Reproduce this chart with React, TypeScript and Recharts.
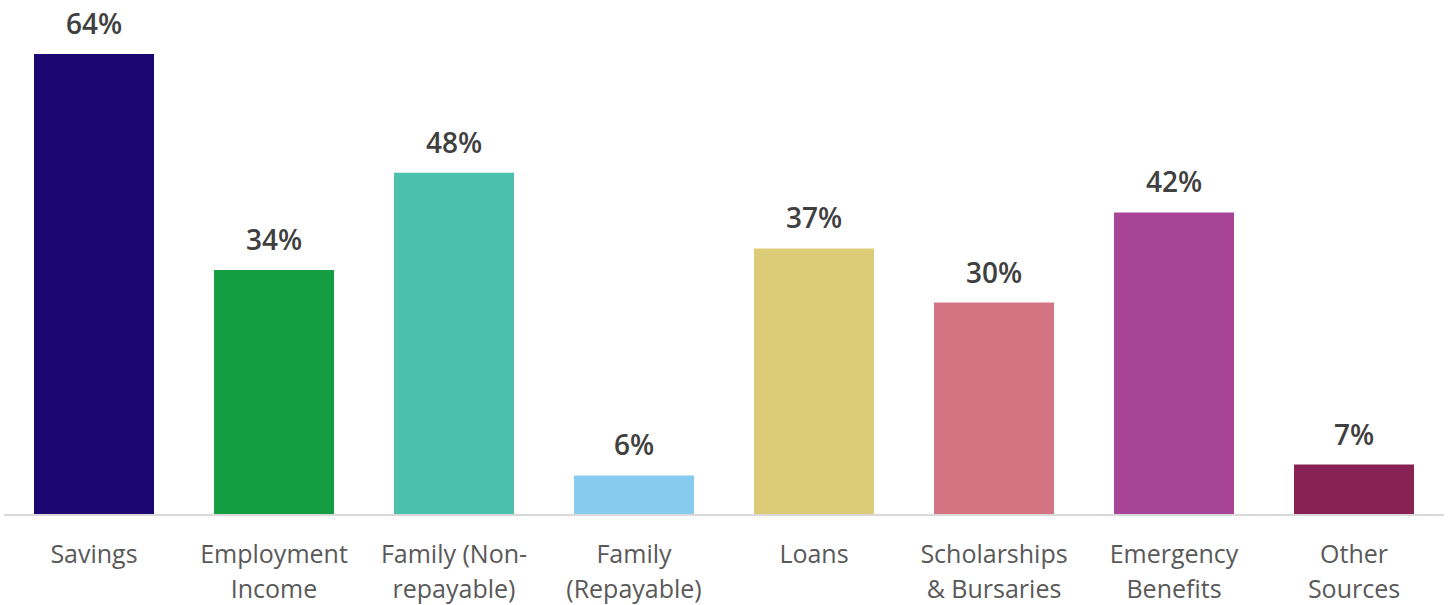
import { Bar, BarChart, Cell, LabelList, XAxis, YAxis } from 'recharts'

const categories = [
  'Savings',
  'Employment Income',
  'Family (Non-repayable)',
  'Family (Repayable)',
  'Loans',
  'Scholarships & Bursaries',
  'Emergency Benefits',
  'Other Sources',
]

// wrapped tick labels, as shown under each bar
const tickLines = [
  ['Savings'],
  ['Employment', 'Income'],
  ['Family (Non-', 'repayable)'],
  ['Family', '(Repayable)'],
  ['Loans'],
  ['Scholarships', '& Bursaries'],
  ['Emergency', 'Benefits'],
  ['Other', 'Sources'],
]

const shares = [64, 34, 47.5, 5.5, 37, 29.5, 42, 7]

const colors = ['#1C0772', '#149E41', '#4BC1AD', '#87CCEE', '#DDCC77', '#D47382', '#A84497', '#882255']

const data = categories.map((name, i) => ({ name, share: shares[i] }))

const FONT = '"Open Sans", "Noto Sans", sans-serif'

function WrappedTick(props: any) {
  const { x, y, payload } = props
  const lines = tickLines[payload.index] ?? [payload.value]
  return (
    <g transform={`translate(${x},${y})`}>
      {lines.map((line: string, i: number) => (
        <text
          key={i}
          x={0}
          y={40 + i * 35}
          textAnchor='middle'
          fill='#595959'
          fontSize={25}
          fontFamily={FONT}
        >
          {line}
        </text>
      ))}
    </g>
  )
}

function ValueLabel(props: any) {
  const { x, y, width, value } = props
  return (
    <text
      x={x + width / 2}
      y={y - 20}
      textAnchor='middle'
      fill='#404040'
      fontSize={28}
      fontWeight={600}
      fontFamily={FONT}
    >
      {Math.round(value)}%
    </text>
  )
}

export default function App() {
  return (
    <div style={{ position: 'absolute', left: 0, top: 0, background: '#fff' }}>
      <BarChart
        width={1450}
        height={605}
        data={data}
        margin={{ top: 54, right: 6, bottom: 0, left: 4 }}
        barCategoryGap={60}
      >
        <XAxis
          dataKey='name'
          interval={0}
          tickLine={false}
          axisLine={{ stroke: '#D9D9D9', strokeWidth: 2 }}
          height={90}
          tick={<WrappedTick />}
        />
        <YAxis hide domain={[0, 64]} />
        <Bar dataKey='share' barSize={120} isAnimationActive={false}>
          {data.map((d, i) => (
            <Cell key={d.name} fill={colors[i]} />
          ))}
          <LabelList dataKey='share' content={<ValueLabel />} />
        </Bar>
      </BarChart>
    </div>
  )
}
